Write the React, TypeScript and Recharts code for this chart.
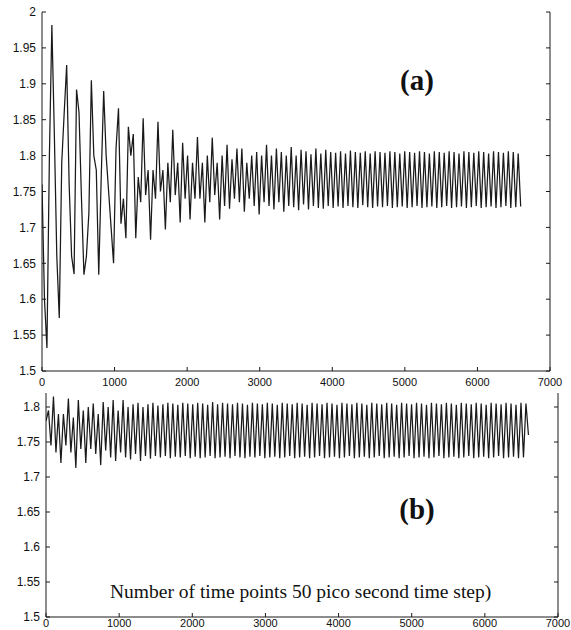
import React from 'react';
import { LineChart, Line, XAxis, YAxis } from 'recharts';

const TIME_STEP = 34;
const xTicks = [0, 1000, 2000, 3000, 4000, 5000, 6000, 7000];
const yTicksA = [1.5, 1.55, 1.6, 1.65, 1.7, 1.75, 1.8, 1.85, 1.9, 1.95, 2];
const yTicksB = [1.5, 1.55, 1.6, 1.65, 1.7, 1.75, 1.8];

const seriesA = [
  1.760, 1.600, 1.532, 1.800, 1.982, 1.830, 1.660, 1.574, 1.790, 1.860,
  1.926, 1.760, 1.660, 1.635, 1.892, 1.860, 1.740, 1.634, 1.660, 1.720,
  1.905, 1.800, 1.780, 1.634, 1.770, 1.890, 1.800, 1.750, 1.700, 1.650,
  1.810, 1.866, 1.705, 1.740, 1.685, 1.840, 1.800, 1.830, 1.685, 1.770,
  1.735, 1.852, 1.745, 1.780, 1.683, 1.780, 1.740, 1.847, 1.750, 1.780,
  1.697, 1.790, 1.735, 1.836, 1.745, 1.790, 1.707, 1.818, 1.740, 1.800,
  1.711, 1.790, 1.740, 1.826, 1.740, 1.790, 1.707, 1.800, 1.735, 1.825,
  1.745, 1.790, 1.711, 1.800, 1.730, 1.815, 1.726, 1.795, 1.740, 1.810,
  1.735, 1.810, 1.722, 1.790, 1.740, 1.800, 1.730, 1.805, 1.718, 1.800,
  1.735, 1.815, 1.730, 1.800, 1.725, 1.810, 1.735, 1.805, 1.722, 1.800,
  1.730, 1.812, 1.728, 1.800, 1.724, 1.808, 1.732, 1.806, 1.725, 1.802,
  1.730, 1.810, 1.727, 1.803, 1.726, 1.808, 1.730, 1.805, 1.727, 1.804,
  1.729, 1.806, 1.727, 1.803, 1.730, 1.807, 1.728, 1.805, 1.727, 1.804,
  1.731, 1.806, 1.728, 1.803, 1.727, 1.806, 1.729, 1.805, 1.728, 1.804,
  1.730, 1.806, 1.727, 1.805, 1.728, 1.803, 1.729, 1.806, 1.727, 1.805,
  1.728, 1.804, 1.730, 1.806, 1.727, 1.805, 1.728, 1.803, 1.729, 1.806,
  1.727, 1.805, 1.728, 1.804, 1.730, 1.806, 1.727, 1.805, 1.728, 1.803,
  1.729, 1.806, 1.727, 1.805, 1.728, 1.804, 1.730, 1.806, 1.727, 1.805,
  1.728, 1.803, 1.729, 1.806, 1.727, 1.805, 1.728, 1.804, 1.730, 1.806,
  1.727, 1.805, 1.728, 1.803, 1.729,
];

const seriesB = [
  1.780, 1.795, 1.745, 1.815, 1.735, 1.790, 1.720, 1.790, 1.745, 1.812,
  1.735, 1.785, 1.713, 1.810, 1.740, 1.795, 1.720, 1.800, 1.740, 1.805,
  1.733, 1.790, 1.717, 1.807, 1.738, 1.800, 1.728, 1.810, 1.723, 1.795,
  1.735, 1.810, 1.728, 1.800, 1.725, 1.804, 1.733, 1.806, 1.723, 1.800,
  1.730, 1.804, 1.726, 1.806, 1.730, 1.802, 1.728, 1.804, 1.730, 1.806,
  1.727, 1.805, 1.729, 1.803, 1.728, 1.806, 1.730, 1.805, 1.727, 1.804,
  1.729, 1.806, 1.727, 1.805, 1.728, 1.803, 1.730, 1.807, 1.727, 1.804,
  1.728, 1.806, 1.729, 1.805, 1.727, 1.804, 1.730, 1.806, 1.728, 1.805,
  1.727, 1.803, 1.729, 1.806, 1.728, 1.805, 1.730, 1.804, 1.727, 1.806,
  1.728, 1.805, 1.729, 1.803, 1.727, 1.806, 1.728, 1.805, 1.730, 1.804,
  1.727, 1.806, 1.728, 1.805, 1.729, 1.803, 1.727, 1.806, 1.728, 1.805,
  1.730, 1.804, 1.727, 1.806, 1.728, 1.805, 1.729, 1.803, 1.727, 1.806,
  1.728, 1.805, 1.730, 1.804, 1.727, 1.806, 1.728, 1.805, 1.729, 1.803,
  1.727, 1.806, 1.728, 1.805, 1.730, 1.804, 1.727, 1.806, 1.728, 1.805,
  1.729, 1.803, 1.727, 1.806, 1.728, 1.805, 1.730, 1.804, 1.727, 1.806,
  1.728, 1.805, 1.729, 1.803, 1.727, 1.806, 1.728, 1.805, 1.730, 1.804,
  1.727, 1.806, 1.728, 1.805, 1.729, 1.803, 1.727, 1.806, 1.728, 1.805,
  1.730, 1.804, 1.727, 1.806, 1.728, 1.805, 1.729, 1.803, 1.727, 1.806,
  1.728, 1.805, 1.730, 1.804, 1.727, 1.806, 1.728, 1.805, 1.729, 1.803,
  1.727, 1.806, 1.728, 1.805, 1.760,
];

const rowsA = seriesA.map((v, i) => ({ t: i * TIME_STEP, v }));
const rowsB = seriesB.map((v, i) => ({ t: i * TIME_STEP, v }));

const INK = '#1a1a1a';
const tickFont = { fontFamily: '"Liberation Sans", Arial, sans-serif', fontSize: 11, fill: '#111' };
const tickFontY = { fontFamily: '"Liberation Sans", Arial, sans-serif', fontSize: 12, fill: '#111' };
const blank = () => '';
const fmtY = (v: number) => String(Number(v.toFixed(2)));

export default function App() {
  return (
    <div style={{ position: 'absolute', left: 0, top: 0, width: 571, height: 630, background: '#fff' }}>
      <div style={{ position: 'absolute', left: 0, top: 0 }}>
        <LineChart width={571} height={395} data={rowsA} margin={{ top: 12, right: 0, left: 0, bottom: 0 }}>
          <XAxis xAxisId="bottom" dataKey="t" type="number" domain={[0, 7000]} ticks={xTicks} orientation="bottom"
            height={24} tickSize={-4} tickMargin={11} stroke={INK} tick={tickFont} allowDataOverflow />
          <XAxis xAxisId="top" dataKey="t" type="number" domain={[0, 7000]} ticks={xTicks} orientation="top"
            height={0} tickSize={-4} tickFormatter={blank} stroke={INK} allowDataOverflow />
          <YAxis yAxisId="left" type="number" domain={[1.5, 2]} ticks={yTicksA} orientation="left" width={42}
            tickSize={-4} tickMargin={10} stroke={INK} tick={tickFontY} tickFormatter={fmtY} allowDataOverflow />
          <YAxis yAxisId="right" type="number" domain={[1.5, 2]} ticks={yTicksA} orientation="right" width={21}
            tickSize={-4} tickFormatter={blank} stroke={INK} allowDataOverflow />
          <Line xAxisId="bottom" yAxisId="left" type="linear" dataKey="v" stroke={INK} strokeWidth={1.25}
            dot={false} isAnimationActive={false} />
        </LineChart>
      </div>
      <div style={{ position: 'absolute', left: 0, top: 380 }}>
        <LineChart width={571} height={250} data={rowsB} margin={{ top: 13, right: 0, left: 0, bottom: 0 }}>
          <XAxis xAxisId="bottom" dataKey="t" type="number" domain={[0, 7000]} ticks={xTicks} orientation="bottom"
            height={13} tickSize={-4} tickMargin={6} stroke={INK} tick={tickFont} allowDataOverflow />
          <YAxis yAxisId="left" type="number" domain={[1.5, 1.82]} ticks={yTicksB} orientation="left" width={46}
            tickSize={-4} tickMargin={10} stroke={INK} tick={tickFontY} tickFormatter={fmtY} allowDataOverflow />
          <YAxis yAxisId="right" type="number" domain={[1.5, 1.82]} ticks={yTicksB} orientation="right" width={13}
            tickSize={-4} tickFormatter={blank} stroke={INK} allowDataOverflow />
          <Line xAxisId="bottom" yAxisId="left" type="linear" dataKey="v" stroke={INK} strokeWidth={1.25}
            dot={false} isAnimationActive={false} />
        </LineChart>
      </div>
      <svg width={571} height={630} style={{ position: 'absolute', left: 0, top: 0, pointerEvents: 'none' }}>
        <text x={417} y={90} textAnchor="middle" fontFamily='"Liberation Serif", "Times New Roman", serif'
          fontWeight="bold" fontSize={29} fill="#111">(a)</text>
        <text x={417} y={519} textAnchor="middle" fontFamily='"Liberation Serif", "Times New Roman", serif'
          fontWeight="bold" fontSize={29} fill="#111">(b)</text>
        <text x={110} y={598} textAnchor="start" fontFamily='"Liberation Serif", "Times New Roman", serif'
          fontSize={19.5} fill="#111">Number of time points 50 pico second time step)</text>
      </svg>
    </div>
  );
}
